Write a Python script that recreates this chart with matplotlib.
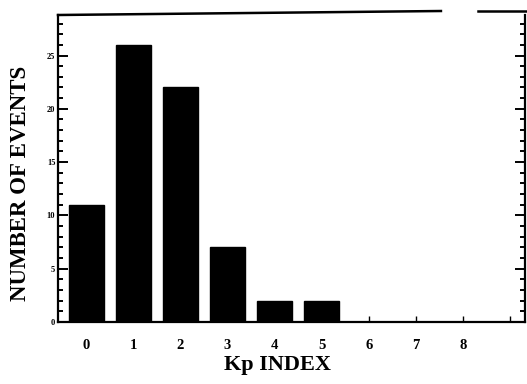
import matplotlib
matplotlib.use("Agg")
import matplotlib.pyplot as plt
from matplotlib.ticker import MultipleLocator

kp_index = [0, 1, 2, 3, 4, 5]
num_events = [11, 26, 22, 7, 2, 2]
tick_positions = [0, 1, 2, 3, 4, 5, 6, 7, 8, 9]
tick_labels = ["0", "1", "2", "3", "4", "5", "6", "7", "8", ""]
y_ticks = [0, 5, 10, 15, 20, 25]

serif = ["Liberation Serif", "DejaVu Serif"]

fig = plt.figure(figsize=(5.27, 3.84), dpi=100)
ax = fig.add_axes([58/527, 1-322/384, (525-58)/527, (322-15)/384])

ax.bar(kp_index, num_events, width=0.74, color="black", edgecolor="black")

ax.set_xlim(-0.6, 9.32)
ax.set_ylim(0, 28.8)

ax.set_xticks(tick_positions)
ax.set_xticklabels(tick_labels, fontfamily=serif, fontweight="bold", fontsize=10.5)
ax.set_yticks(y_ticks)
ax.set_yticklabels([str(v) for v in y_ticks], fontfamily=serif, fontweight="bold", fontsize=6)
ax.yaxis.set_minor_locator(MultipleLocator(1))

ax.tick_params(axis="x", direction="in", length=4, width=1.0, pad=12, top=False)
ax.tick_params(axis="y", which="major", direction="in", length=7, width=1.4, pad=2, right=True)
ax.tick_params(axis="y", which="minor", direction="in", length=3.5, width=1.4, right=True)

for side in ["left", "bottom", "right"]:
    ax.spines[side].set_linewidth(1.6)
ax.spines["top"].set_visible(False)

# broken top frame line as in the scan
ax.plot([0.0, 0.82], [1.0, 1.013], transform=ax.transAxes, color="black",
        lw=1.8, clip_on=False)
ax.plot([0.9, 1.01], [1.013, 1.013], transform=ax.transAxes, color="black",
        lw=1.8, clip_on=False)

ax.set_xlabel("Kp INDEX", fontfamily=serif, fontsize=16, fontweight="semibold")
ax.set_ylabel("NUMBER OF EVENTS", fontfamily=serif, fontsize=16.5, fontweight="semibold")
ax.xaxis.set_label_coords(0.469, -0.14, transform=ax.transAxes)
ax.yaxis.set_label_coords(-0.081, 0.45, transform=ax.transAxes)
ax.xaxis.label.set_va("center")
ax.yaxis.label.set_va("center")

fig.savefig("out.png", dpi=100)
